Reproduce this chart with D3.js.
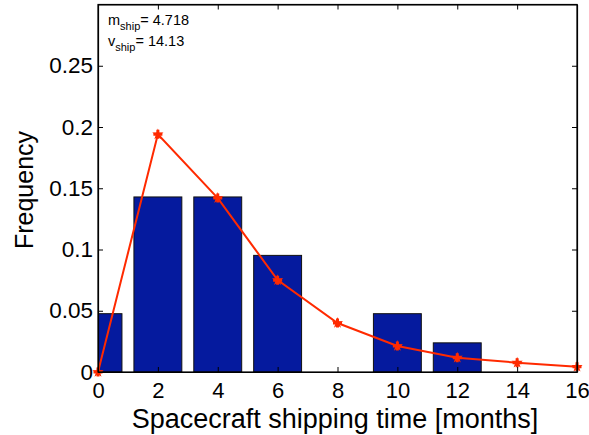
<!DOCTYPE html>
<html><head><meta charset="utf-8">
<script src="https://cdn.jsdelivr.net/npm/d3@7"></script>
<style>body{margin:0;background:#fff;} svg{display:block;}</style>
</head><body>
<svg id="chart" width="589" height="435"></svg>
<script>
const binCenters = [0, 2, 4, 6, 8, 10, 12];
const binFreq = [0.0476, 0.1429, 0.1429, 0.0952, 0, 0.0476, 0.0238];
const fitX = [0, 2, 4, 6, 8, 10, 12, 14, 16];
const fitY = [0, 0.194, 0.142, 0.075, 0.040, 0.0212, 0.0117, 0.0076, 0.0043];
const xTicks = [0, 2, 4, 6, 8, 10, 12, 14, 16];
const yTicks = [0, 0.05, 0.1, 0.15, 0.2, 0.25];
const yTickLabels = ["0", "0.05", "0.1", "0.15", "0.2", "0.25"];
const statM = "4.718", statV = "14.13";

const svg = d3.select("#chart");
const L = 98, R = 577, T = 4.5, B = 372;
const x = d3.scaleLinear().domain([0, 16]).range([L, R]);
const y = d3.scaleLinear().domain([0, 0.3]).range([B, T]);
const font = "'Liberation Sans', Arial, Helvetica, sans-serif";

svg.append("defs").append("clipPath").attr("id", "clip")
  .append("rect").attr("x", L).attr("y", T).attr("width", R - L).attr("height", B - T);

const plot = svg.append("g").attr("clip-path", "url(#clip)");
const bw = 1.6;
plot.selectAll("rect.bar").data(binCenters.map((c, i) => ({c, v: binFreq[i]})).filter(d => d.v > 0))
  .enter().append("rect").attr("class", "bar")
  .attr("x", d => x(d.c - bw / 2)).attr("width", d => x(d.c + bw / 2) - x(d.c - bw / 2))
  .attr("y", d => y(d.v)).attr("height", d => y(0) - y(d.v))
  .attr("fill", "#051a9e").attr("stroke", "#111").attr("stroke-width", 1);

const pts = fitX.map((v, i) => [v, fitY[i]]);
svg.append("path").datum(pts)
  .attr("d", d3.line().x(d => x(d[0])).y(d => y(d[1])))
  .attr("fill", "none").attr("stroke", "#ff2a00").attr("stroke-width", 2);

svg.selectAll("path.mk").data(pts).enter().append("path").attr("class", "mk")
  .attr("transform", d => `translate(${x(d[0])},${y(d[1])})`)
  .attr("d", d3.symbol().type(d3.symbolCross).size(45))
  .attr("fill", "#ff2a00");
svg.selectAll("path.mk2").data(pts).enter().append("path").attr("class", "mk2")
  .attr("transform", d => `translate(${x(d[0])},${y(d[1])})`)
  .attr("d", d3.symbol().type(d3.symbolStar).size(40))
  .attr("fill", "#ff2a00");

// Axes with inward ticks
const tl = 5;
const xb = svg.append("g").attr("transform", `translate(0,${B})`)
  .call(d3.axisBottom(x).tickValues(xTicks).tickSizeInner(-tl).tickSizeOuter(0).tickPadding(10));
const xt = svg.append("g").attr("transform", `translate(0,${T})`)
  .call(d3.axisTop(x).tickValues(xTicks).tickSizeInner(-tl).tickSizeOuter(0).tickFormat(""));
const yl = svg.append("g").attr("transform", `translate(${L},0)`)
  .call(d3.axisLeft(y).tickValues(yTicks).tickSizeInner(-tl).tickSizeOuter(0).tickPadding(5)
    .tickFormat((d, i) => yTickLabels[i]));
const yr = svg.append("g").attr("transform", `translate(${R},0)`)
  .call(d3.axisRight(y).tickValues(yTicks).tickSizeInner(-tl).tickSizeOuter(0).tickFormat(""));
[xb, xt, yl, yr].forEach(g => {
  g.selectAll(".domain").attr("stroke", "#000").attr("stroke-width", 1.2);
  g.selectAll(".tick line").attr("stroke", "#000");
  g.selectAll("text").attr("font-family", font).attr("font-size", 22.5).attr("fill", "#000");
});
xb.selectAll("text").attr("font-size", 22).attr("dy", "0.71em");
svg.append("rect").attr("x", L).attr("y", T).attr("width", R - L).attr("height", B - T)
  .attr("fill", "none").attr("stroke", "#000").attr("stroke-width", 1.2);

svg.append("text").attr("x", 335).attr("y", 428).attr("text-anchor", "middle")
  .attr("font-family", font).attr("font-size", 27).text("Spacecraft shipping time [months]");
svg.append("text").attr("transform", `translate(33,190) rotate(-90)`)
  .attr("text-anchor", "middle").attr("font-family", font).attr("font-size", 25).text("Frequency");

const ann = svg.append("g").attr("font-family", font).attr("font-size", 14.5);
const t1 = ann.append("text").attr("x", 108).attr("y", 25);
t1.append("tspan").text("m");
t1.append("tspan").attr("font-size", 11).attr("dy", 5).text("ship");
t1.append("tspan").attr("dy", -5).text("= " + statM);
const t2 = ann.append("text").attr("x", 108).attr("y", 46);
t2.append("tspan").text("v");
t2.append("tspan").attr("font-size", 11).attr("dy", 5).text("ship");
t2.append("tspan").attr("dy", -5).text("= " + statV);
</script>
</body></html>
